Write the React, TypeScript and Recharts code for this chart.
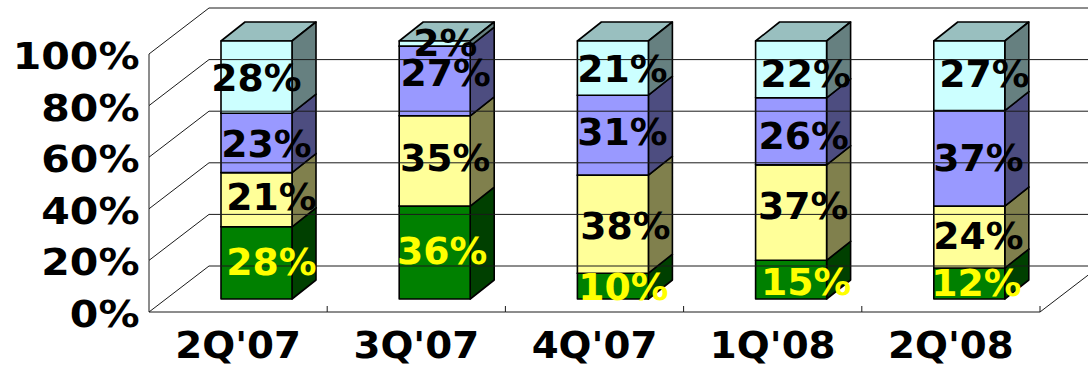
import React from "react";
import { Bar, BarChart, LabelList, XAxis, YAxis } from "recharts";

const quarters = ["2Q'07", "3Q'07", "4Q'07", "1Q'08", "2Q'08"];
const green = [28, 36, 10, 15, 12];
const yellow = [21, 35, 38, 37, 24];
const blue = [23, 27, 31, 26, 37];
const cyan = [28, 2, 21, 22, 27];
const percentTicks = [0, 20, 40, 60, 80, 100];

const rows = quarters.map((quarter, i) => ({
  quarter,
  green: green[i],
  yellow: yellow[i],
  blue: blue[i],
  cyan: cyan[i],
}));

// box depth of the columns and of the whole floor
const BAR_DX = 24;
const BAR_DY = 19;
const WALL_DX = 60;
const WALL_DY = 46;
// the axes sit in front of the columns
const FRONT_DX = -18;
const FRONT_DY = 13;
const FLOOR_Y = 312;
const BAND = 178.2;
const TICK_STEP = 51.6;

const FONT = "'DejaVu Sans', sans-serif";
const LINE = "#1a1a1a";

// hand placed data labels, one row per series
const labelShiftX = {
  green: [15, 7.5, 10.5, 15, 7],
  yellow: [15, 10.5, 12.5, 12, 9],
  blue: [10, 11, 9.5, 12.5, 9],
  cyan: [0, 10.5, 9.5, 14.5, 15],
};
const labelShiftY = {
  green: [-1, -2, 0, 1.5, -1.5],
  yellow: [-3, -3, 1, -7, -2],
  blue: [1, -8, -4, 4.5, -1],
  cyan: [0, -1, 0, 4, -2.5],
};

const boxShape = (front: string, top: string, side: string) => (props: any) => {
  const { x, y, width, height } = props;
  const r = x + width;
  const b = y + height;
  return (
    <g stroke="#000" strokeWidth={1.6} strokeLinejoin="round">
      <polygon
        points={`${x},${y} ${x + BAR_DX},${y - BAR_DY} ${r + BAR_DX},${y - BAR_DY} ${r},${y}`}
        fill={top}
      />
      <polygon
        points={`${r},${y} ${r + BAR_DX},${y - BAR_DY} ${r + BAR_DX},${b - BAR_DY} ${r},${b}`}
        fill={side}
      />
      <rect x={x} y={y} width={width} height={height} fill={front} />
    </g>
  );
};

const segmentLabel = (series: keyof typeof labelShiftX, color: string) => (props: any) => {
  const { x, y, width, height, value, index } = props;
  const tx = x + width / 2 + labelShiftX[series][index];
  const ty = y + height / 2 + labelShiftY[series][index] + 13.5;
  return (
    <text
      transform={`translate(${tx} ${ty}) scale(1.02 1)`}
      textAnchor="middle"
      fontFamily={FONT}
      fontWeight="bold"
      fontSize={37}
      fill={color}
    >
      {value}%
    </text>
  );
};

// value tick: label, side wall diagonal and the gridline on the back wall
const PercentTick = (props: any) => {
  const { y, payload } = props;
  const fx = 149;
  const fy = y + FRONT_DY;
  return (
    <g>
      <line x1={fx} y1={fy} x2={fx + WALL_DX} y2={fy - WALL_DY} stroke={LINE} />
      <line x1={fx + WALL_DX} y1={fy - WALL_DY} x2={1088} y2={fy - WALL_DY} stroke={LINE} />
      {payload.value > 0 && <line x1={fx} y1={fy} x2={fx} y2={fy + TICK_STEP} stroke={LINE} />}
      <text
        transform={`translate(139.5 ${fy + 15}) scale(1.08 1)`}
        textAnchor="end"
        fontFamily={FONT}
        fontWeight="bold"
        fontSize={38}
        fill="#000"
      >
        {payload.value}%
      </text>
    </g>
  );
};

// category tick: label, floor edge and the small mark between quarters
const QuarterTick = (props: any) => {
  const { x, payload, index } = props;
  const cx = x + FRONT_DX;
  const right = cx + BAND / 2;
  return (
    <g>
      <line x1={cx - BAND / 2} y1={FLOOR_Y} x2={right} y2={FLOOR_Y} stroke={LINE} />
      <line x1={right} y1={FLOOR_Y} x2={right} y2={FLOOR_Y - 6} stroke={LINE} />
      {index === quarters.length - 1 && (
        <line x1={right} y1={FLOOR_Y} x2={right + WALL_DX} y2={FLOOR_Y - WALL_DY} stroke={LINE} />
      )}
      <text
        transform={`translate(${cx} 358) scale(1.02 1)`}
        textAnchor="middle"
        fontFamily={FONT}
        fontWeight="bold"
        fontSize={38}
        fill="#000"
      >
        {payload.value}
      </text>
    </g>
  );
};

export default function App() {
  return (
    <div style={{ position: "absolute", left: 0, top: 0, width: 1088, height: 367, background: "#fff" }}>
      <BarChart
        width={1088}
        height={367}
        data={rows}
        margin={{ top: 41, right: 30, bottom: 0, left: 0 }}
        barSize={71}
      >
        <XAxis dataKey="quarter" height={68} axisLine={false} tickLine={false} tick={QuarterTick} interval={0} />
        <YAxis
          width={167}
          domain={[0, 100]}
          ticks={percentTicks}
          axisLine={false}
          tickLine={false}
          tick={PercentTick}
          interval={0}
        />
        <Bar dataKey="green" stackId="mix" isAnimationActive={false} shape={boxShape("#008000", "#006000", "#004000")}>
          <LabelList dataKey="green" content={segmentLabel("green", "#ffff00")} />
        </Bar>
        <Bar dataKey="yellow" stackId="mix" isAnimationActive={false} shape={boxShape("#ffff99", "#bfbf73", "#80804d")}>
          <LabelList dataKey="yellow" content={segmentLabel("yellow", "#000")} />
        </Bar>
        <Bar dataKey="blue" stackId="mix" isAnimationActive={false} shape={boxShape("#9999ff", "#7373bf", "#4d4d80")}>
          <LabelList dataKey="blue" content={segmentLabel("blue", "#000")} />
        </Bar>
        <Bar dataKey="cyan" stackId="mix" isAnimationActive={false} shape={boxShape("#ccffff", "#99bfbf", "#668080")}>
          <LabelList dataKey="cyan" content={segmentLabel("cyan", "#000")} />
        </Bar>
      </BarChart>
    </div>
  );
}
